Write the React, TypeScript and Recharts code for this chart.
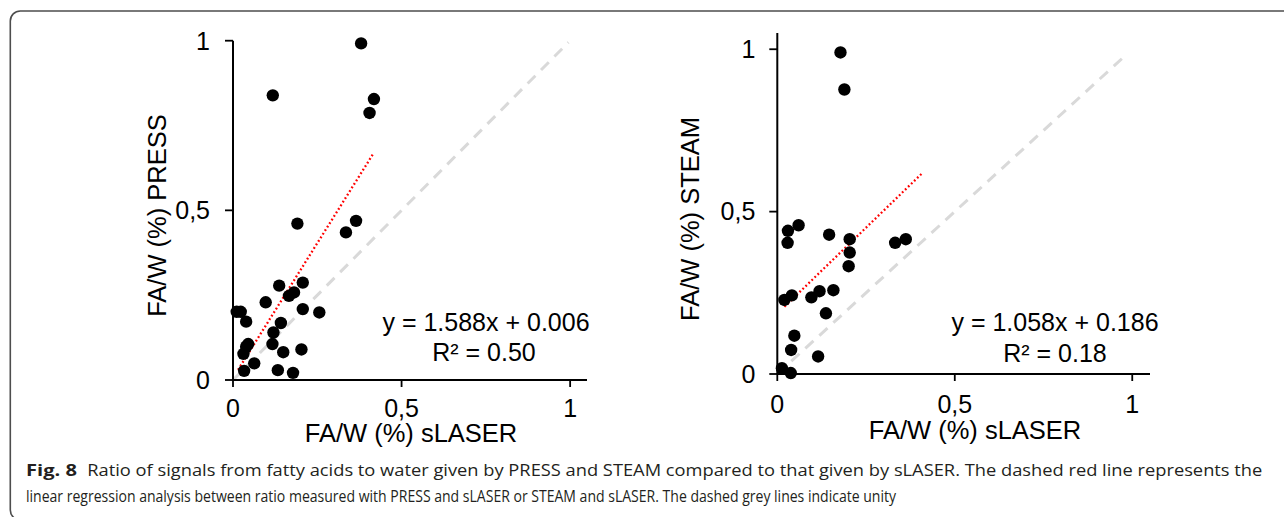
import React from 'react';
import { ScatterChart, Scatter, XAxis, YAxis, ReferenceLine } from 'recharts';

// ---------- data ----------
const axisTicks = [0, 0.5, 1];
const axisTickLabels = ['0', '0,5', '1'];

const pressPoints = [
  { x: 0.380, y: 0.992 }, { x: 0.118, y: 0.839 }, { x: 0.418, y: 0.828 }, { x: 0.405, y: 0.787 },
  { x: 0.191, y: 0.461 }, { x: 0.365, y: 0.469 }, { x: 0.335, y: 0.435 }, { x: 0.207, y: 0.287 },
  { x: 0.137, y: 0.278 }, { x: 0.181, y: 0.258 }, { x: 0.166, y: 0.248 }, { x: 0.097, y: 0.229 },
  { x: 0.011, y: 0.201 }, { x: 0.023, y: 0.201 }, { x: 0.207, y: 0.209 }, { x: 0.256, y: 0.199 },
  { x: 0.039, y: 0.172 }, { x: 0.142, y: 0.168 }, { x: 0.120, y: 0.140 }, { x: 0.117, y: 0.106 },
  { x: 0.045, y: 0.106 }, { x: 0.039, y: 0.098 }, { x: 0.031, y: 0.077 }, { x: 0.149, y: 0.082 },
  { x: 0.203, y: 0.090 }, { x: 0.063, y: 0.049 }, { x: 0.033, y: 0.027 }, { x: 0.133, y: 0.029 },
  { x: 0.178, y: 0.021 },
];

const steamPoints = [
  { x: 0.178, y: 0.990 }, { x: 0.189, y: 0.876 }, { x: 0.060, y: 0.458 }, { x: 0.030, y: 0.441 },
  { x: 0.029, y: 0.404 }, { x: 0.146, y: 0.429 }, { x: 0.204, y: 0.415 }, { x: 0.204, y: 0.374 },
  { x: 0.201, y: 0.332 }, { x: 0.332, y: 0.404 }, { x: 0.362, y: 0.415 }, { x: 0.041, y: 0.242 },
  { x: 0.020, y: 0.228 }, { x: 0.096, y: 0.236 }, { x: 0.119, y: 0.255 }, { x: 0.158, y: 0.258 },
  { x: 0.137, y: 0.187 }, { x: 0.048, y: 0.118 }, { x: 0.039, y: 0.074 }, { x: 0.115, y: 0.054 },
  { x: 0.013, y: 0.018 }, { x: 0.038, y: 0.003 },
];

// regression (red dotted) and unity (grey dashed) segment ends
const pressFit = [{ x: 0.015, y: 0.030 }, { x: 0.416, y: 0.667 }];
const steamFit = [{ x: 0.020, y: 0.207 }, { x: 0.409, y: 0.619 }];
const pressUnity = [{ x: 0, y: 0 }, { x: 0.995, y: 0.995 }];
const steamUnity = [{ x: 0, y: 0 }, { x: 0.985, y: 0.985 }];

const pressEquation = ['y = 1.588x + 0.006', 'R² = 0.50'];
const steamEquation = ['y = 1.058x + 0.186', 'R² = 0.18'];
const xTitle = 'FA/W (%) sLASER';
const yTitles = ['FA/W (%) PRESS', 'FA/W (%) STEAM'];
const captionBold = 'Fig. 8';
const captionLine1 = 'Ratio of signals from fatty acids to water given by PRESS and STEAM compared to that given by sLASER. The dashed red line represents the';
const captionLine2 = 'linear regression analysis between ratio measured with PRESS and sLASER or STEAM and sLASER. The dashed grey lines indicate unity';

// ---------- styles ----------
const FONT = '"Liberation Sans", Arial, sans-serif';
const tickStyle = { fontSize: 25, fill: '#000', fontFamily: FONT };
const fmt = (v: number) => {
  const i = axisTicks.indexOf(v);
  return i >= 0 ? axisTickLabels[i] : String(v).replace('.', ',');
};

const Dot = (props: any) => {
  const { cx, cy } = props;
  if (cx == null || cy == null) return null;
  return <circle cx={cx} cy={cy} r={6.2} fill="#000" />;
};

type PanelProps = {
  left: number;
  width: number;
  height: number;
  margin: { top: number; right: number; bottom: number; left: number };
  yAxisWidth: number;
  yDomain: [number, number];
  points: { x: number; y: number }[];
  fit: { x: number; y: number }[];
  unity: { x: number; y: number }[];
  xTickMargin: number;
  yTickMargin: number;
};

const Panel = (p: PanelProps) => (
  <div style={{ position: 'absolute', left: p.left, top: 0 }}>
    <ScatterChart width={p.width} height={p.height} margin={p.margin}>
      <XAxis
        type="number"
        dataKey="x"
        domain={[0, 1.05]}
        ticks={axisTicks}
        tickFormatter={fmt}
        height={60}
        tickSize={7}
        tickMargin={p.xTickMargin}
        tick={tickStyle}
        axisLine={{ stroke: '#000', strokeWidth: 2 }}
        tickLine={{ stroke: '#000', strokeWidth: 1.8 }}
      />
      <YAxis
        type="number"
        dataKey="y"
        domain={p.yDomain}
        ticks={axisTicks}
        tickFormatter={fmt}
        width={p.yAxisWidth}
        tickSize={8}
        tickMargin={p.yTickMargin}
        tick={tickStyle}
        axisLine={{ stroke: '#000', strokeWidth: 2 }}
        tickLine={{ stroke: '#000', strokeWidth: 1.8 }}
      />
      <Scatter data={p.points} shape={Dot} isAnimationActive={false} />
      <ReferenceLine
        segment={p.unity}
        stroke="#d9d9d9"
        strokeWidth={3}
        strokeDasharray="11 8"
        ifOverflow="visible"
      />
      <ReferenceLine
        segment={p.fit}
        stroke="#ff0000"
        strokeWidth={2.3}
        strokeDasharray="1.8 2.4"
        ifOverflow="visible"
      />
    </ScatterChart>
  </div>
);

export default function App() {
  return (
    <div style={{ position: 'absolute', left: 0, top: 0, width: 1284, height: 517, background: '#fff', overflow: 'hidden' }}>
      <Panel
        left={0}
        width={640}
        height={470}
        margin={{ top: 40.7, right: 53, bottom: 30, left: 0 }}
        yAxisWidth={233}
        yDomain={[0, 1]}
        points={pressPoints}
        fit={pressFit}
        unity={pressUnity}
        xTickMargin={12}
        yTickMargin={15}
      />
      <Panel
        left={640}
        width={640}
        height={470}
        margin={{ top: 33, right: 130, bottom: 36, left: 0 }}
        yAxisWidth={137.3}
        yDomain={[0, 1.05]}
        points={steamPoints}
        fit={steamFit}
        unity={steamUnity}
        xTickMargin={14.5}
        yTickMargin={14}
      />
      <svg
        width={1284}
        height={517}
        style={{ position: 'absolute', left: 0, top: 0, pointerEvents: 'none' }}
      >
        <rect x={10.3} y={11} width={1300} height={509} rx={10} ry={10} fill="none" stroke="#4d4d4d" strokeWidth={1.6} />
        <g fontFamily={FONT} fill="#000">
          <text x={165.5} y={215.5} fontSize={25.5} textAnchor="middle" transform="rotate(-90 165.5 215.5)">{yTitles[0]}</text>
          <text x={699} y={219} fontSize={25.5} textAnchor="middle" transform="rotate(-90 699 219)">{yTitles[1]}</text>
          <text x={411} y={442} fontSize={25.5} textAnchor="middle">{xTitle}</text>
          <text x={975} y={439} fontSize={25.5} textAnchor="middle">{xTitle}</text>
          <text x={486} y={331} fontSize={25} textAnchor="middle">{pressEquation[0]}</text>
          <text x={484} y={361} fontSize={25} textAnchor="middle">{pressEquation[1]}</text>
          <text x={1055} y={331} fontSize={25} textAnchor="middle">{steamEquation[0]}</text>
          <text x={1055} y={361.5} fontSize={25} textAnchor="middle">{steamEquation[1]}</text>
        </g>
        <g fontFamily='"Open Sans", "Noto Sans", sans-serif' fill="#231f20" fontSize={16}>
          <text x={26} y={476} fontWeight="bold" textLength={51} lengthAdjust="spacingAndGlyphs">{captionBold}</text>
          <text x={87.3} y={476} textLength={1175} lengthAdjust="spacingAndGlyphs">{captionLine1}</text>
          <text x={26} y={502} textLength={870} lengthAdjust="spacingAndGlyphs">{captionLine2}</text>
        </g>
      </svg>
    </div>
  );
}
